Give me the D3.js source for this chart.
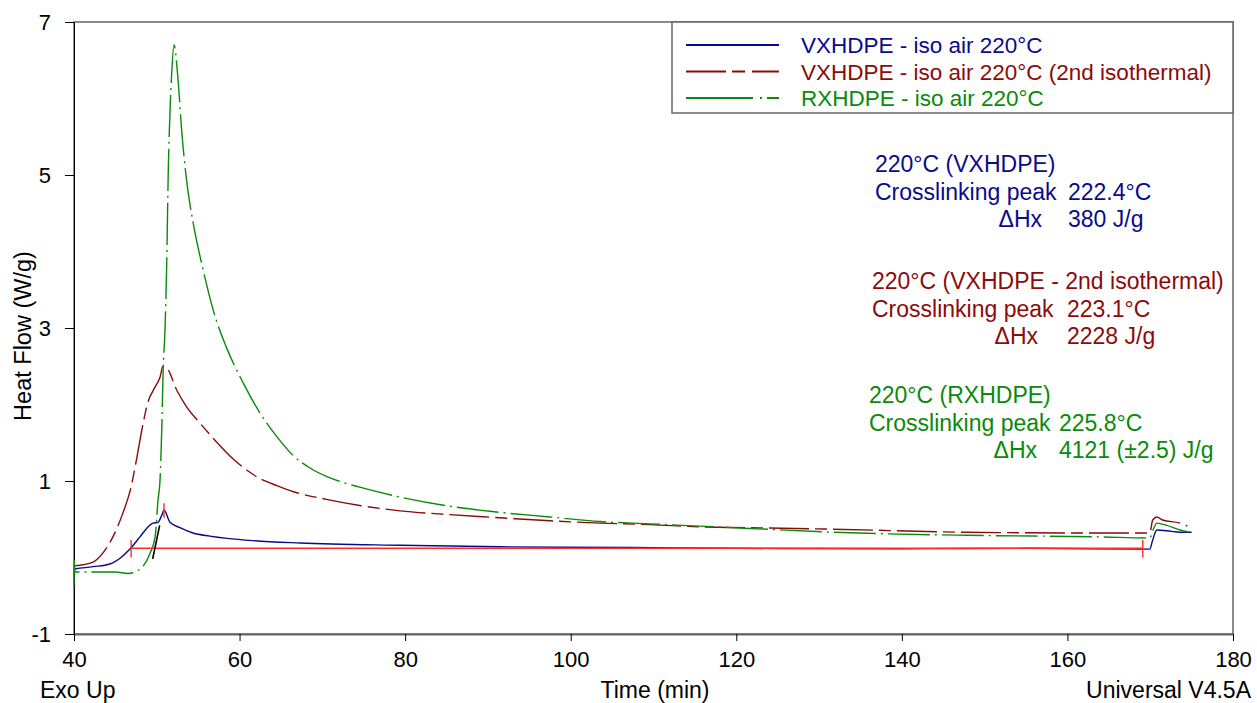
<!DOCTYPE html>
<meta charset="utf-8">
<style>
body { margin: 0; background: #fff; }
svg text { font-family: "Liberation Sans", Arial, sans-serif; }
</style>
<svg width="1257" height="703"></svg>
<script src="https://cdn.jsdelivr.net/npm/d3@7"></script>
<script>

// [time (min), heat flow (W/g)]
var vxhdpe = [[40,-0.15],[42.3,-0.12],[44.35,-0.085],[45.56,-0.01],[46.76,0.11],[47.97,0.27],[48.94,0.40],
  [49.54,0.45],[50.14,0.46],[50.63,0.56],[50.87,0.62],[51.6,0.46],[52.8,0.39],[54.37,0.32],[56.4,0.28],
  [58.5,0.25],[61.6,0.22],[67.3,0.19],[79.4,0.16],[91.4,0.14],[107.5,0.13],[120,0.12],[140,0.115],
  [155.5,0.12],[169.95,0.11],[170.3,0.23],[170.8,0.36],[172,0.35],[173.6,0.33],[175,0.33]];

var vxhdpe2 = [[40,-0.11],[42.3,-0.06],[43.5,0.06],[44.7,0.27],[45.9,0.58],[46.8,0.88],[47.6,1.31],
  [48.2,1.67],[48.9,2.02],[49.8,2.23],[50.4,2.36],[50.75,2.50],[51.2,2.48],[52.4,2.19],[53.6,1.97],
  [55.2,1.76],[57.3,1.50],[59.2,1.29],[60.9,1.14],[62.5,1.03],[64.5,0.94],[66.5,0.86],[70.5,0.76],
  [74.5,0.68],[79.4,0.61],[85.4,0.56],[91.4,0.52],[97.5,0.48],[103.5,0.45],[109.6,0.43],[115.6,0.40],
  [121.6,0.39],[131.7,0.37],[147.8,0.33],[163.9,0.32],[169.95,0.32],[170.3,0.49],[170.8,0.53],
  [171.5,0.49],[173.6,0.45],[174.5,0.41]];

var rxhdpe = [[40,-0.36],[40.03,-0.03],[40.12,-0.19],[43,-0.19],[45,-0.19],[46.5,-0.21],[47.5,-0.18],
  [48.3,-0.12],[49.2,0.06],[49.8,0.27],[50.15,0.75],[50.39,1.01],[50.6,1.67],[50.78,2.49],[50.99,2.97],
  [51.2,3.85],[51.39,5.07],[51.59,5.81],[51.8,6.33],[52.08,6.70],[52.6,6.20],[53.0,5.59],[53.6,4.93],
  [54.4,4.37],[55.6,3.76],[56.8,3.24],[58.4,2.75],[60.45,2.28],[62.46,1.89],[64.5,1.58],[66.5,1.33],
  [68.5,1.17],[70.5,1.06],[72.5,0.98],[74.5,0.92],[79.4,0.79],[85.4,0.67],[91.4,0.59],[97.5,0.53],
  [103.5,0.47],[109.6,0.44],[115.6,0.41],[121.6,0.38],[131.7,0.33],[147.8,0.29],[163.9,0.27],
  [169.95,0.255],[170.3,0.35],[170.8,0.45],[172,0.42],[173.6,0.36],[174.8,0.33]];

// integration baseline + limit marks (blue curve)
var baseline = [[46.9,0.12],[169.1,0.12]];
var limitTicks = [[46.9,0.0,0.23],[169.1,0.0,0.23],[50.87,0.52,0.71]];
var onsetLine = [[49.5,-0.02],[50.35,0.42]];

var xTicks = [40,60,80,100,120,140,160,180];
var yTicks = [-1,1,3,5,7];

var legendLabels = ["VXHDPE - iso air 220°C","VXHDPE - iso air 220°C (2nd isothermal)","RXHDPE - iso air 220°C"];
var notes = [
  ["220°C (VXHDPE)","222.4°C","380 J/g"],
  ["220°C (VXHDPE - 2nd isothermal)","223.1°C","2228 J/g"],
  ["220°C (RXHDPE)","225.8°C","4121 (±2.5) J/g"]
];

var blue = "#0a0a8c", red = "#8b0a0a", green = "#0a8a0a";

var svg = d3.select("svg"),
    pL = 74, pR = 1233, pT = 22, pB = 634;

var x = d3.scaleLinear().domain([40,180]).range([pL,pR]);
var y = d3.scaleLinear().domain([-1,7]).range([pB,pT]);

// frame
svg.append("rect")
  .attr("x", pL).attr("y", pT)
  .attr("width", pR-pL).attr("height", pB-pT)
  .attr("fill", "none").attr("stroke", "#666").attr("stroke-width", 1.5);

// axes
var xAxis = svg.append("g").attr("transform", "translate(0," + pB + ")");
xAxis.call(d3.axisBottom(x).tickValues(d3.range(40,181,5)).tickSize(5).tickFormat(""));
xAxis.call(d3.axisBottom(x).tickValues(xTicks).tickSize(7).tickSizeOuter(0).tickPadding(10)
  .tickFormat(function(d) { return String(d); }));
xAxis.selectAll(".domain").attr("stroke", "#666").attr("stroke-width", 2);
xAxis.selectAll("text").attr("font-size", 22).attr("font-family", null).attr("fill", "#000");

var yAxis = svg.append("g").attr("transform", "translate(" + pL + ",0)");
yAxis.call(d3.axisLeft(y).tickValues(d3.range(-1,7.01,0.5)).tickSize(5).tickFormat(""));
yAxis.call(d3.axisLeft(y).tickValues(yTicks).tickSize(9).tickSizeOuter(0).tickPadding(14)
  .tickFormat(function(d) { return String(d); }));
yAxis.selectAll(".domain").attr("stroke", "#000");
yAxis.selectAll("text").attr("font-size", 22).attr("font-family", null).attr("fill", "#000");

svg.append("text")
  .attr("transform", "translate(31," + 336 + ") rotate(-90)")
  .attr("text-anchor", "middle").attr("font-size", 23.5)
  .text("Heat Flow (W/g)");

svg.append("text").attr("x", 655).attr("y", 698).attr("text-anchor", "middle")
  .attr("font-size", 23).text("Time (min)");
svg.append("text").attr("x", 40).attr("y", 698).attr("font-size", 23).text("Exo Up");
svg.append("text").attr("x", 1251).attr("y", 698).attr("text-anchor", "end")
  .attr("font-size", 23).text("Universal V4.5A");

var line = d3.line().curve(d3.curveMonotoneX)
  .x(function(d) { return x(d[0]); }).y(function(d) { return y(d[1]); });

var plot = svg.append("g");

plot.append("path").datum(vxhdpe2).attr("d", line)
  .attr("fill", "none").attr("stroke", red).attr("stroke-width", 1.4)
  .attr("stroke-dasharray", "40,6,12,6");
plot.append("path").datum(vxhdpe).attr("d", line)
  .attr("fill", "none").attr("stroke", blue).attr("stroke-width", 1.4);
plot.append("path").datum(rxhdpe).attr("d", line)
  .attr("fill", "none").attr("stroke", green).attr("stroke-width", 1.4)
  .attr("stroke-dasharray", "42,5,2,5");

plot.append("path").datum(baseline).attr("d", line)
  .attr("fill", "none").attr("stroke", "#ff2a2a").attr("stroke-width", 1.4);
plot.selectAll(".lim").data(limitTicks).enter().append("line")
  .attr("x1", function(d) { return x(d[0]); }).attr("x2", function(d) { return x(d[0]); })
  .attr("y1", function(d) { return y(d[1]); }).attr("y2", function(d) { return y(d[2]); })
  .attr("stroke", "#ff2a2a").attr("stroke-width", 1.4);
plot.append("path").datum(onsetLine).attr("d", line)
  .attr("fill", "none").attr("stroke", "#000").attr("stroke-width", 1.6);

// legend
var legend = svg.append("g");
legend.append("rect").attr("x", 672).attr("y", pT).attr("width", pR-672).attr("height", 91)
  .attr("fill", "#fff").attr("stroke", "#666").attr("stroke-width", 1.5);
var legColors = [blue, red, green];
var legDash = [null, "40,6,13,7", "67,7,2,5"];
var legY = [45, 71.5, 98];
legendLabels.forEach(function(t, i) {
  legend.append("line").attr("x1", 686).attr("x2", 779).attr("y1", legY[i]).attr("y2", legY[i])
    .attr("stroke", legColors[i]).attr("stroke-width", 2).attr("stroke-dasharray", legDash[i]);
  legend.append("text").attr("x", 801).attr("y", legY[i] + 8).attr("font-size", 22.5)
    .attr("fill", legColors[i]).text(t);
});

// annotations
var noteX = [875, 872, 869], noteY = [172, 289, 403], valX = [1068, 1067, 1059], dhEnd = [1042, 1038, 1037];
notes.forEach(function(n, i) {
  var g = svg.append("g").attr("fill", legColors[i]).attr("font-size", 23);
  g.append("text").attr("x", noteX[i]).attr("y", noteY[i]).text(n[0]);
  g.append("text").attr("x", noteX[i]).attr("y", noteY[i] + 28).text("Crosslinking peak");
  g.append("text").attr("x", valX[i]).attr("y", noteY[i] + 28).text(n[1]);
  g.append("text").attr("x", dhEnd[i]).attr("y", noteY[i] + 55).attr("text-anchor", "end").text("ΔHx");
  g.append("text").attr("x", valX[i]).attr("y", noteY[i] + 55).text(n[2]);
});

</script>
